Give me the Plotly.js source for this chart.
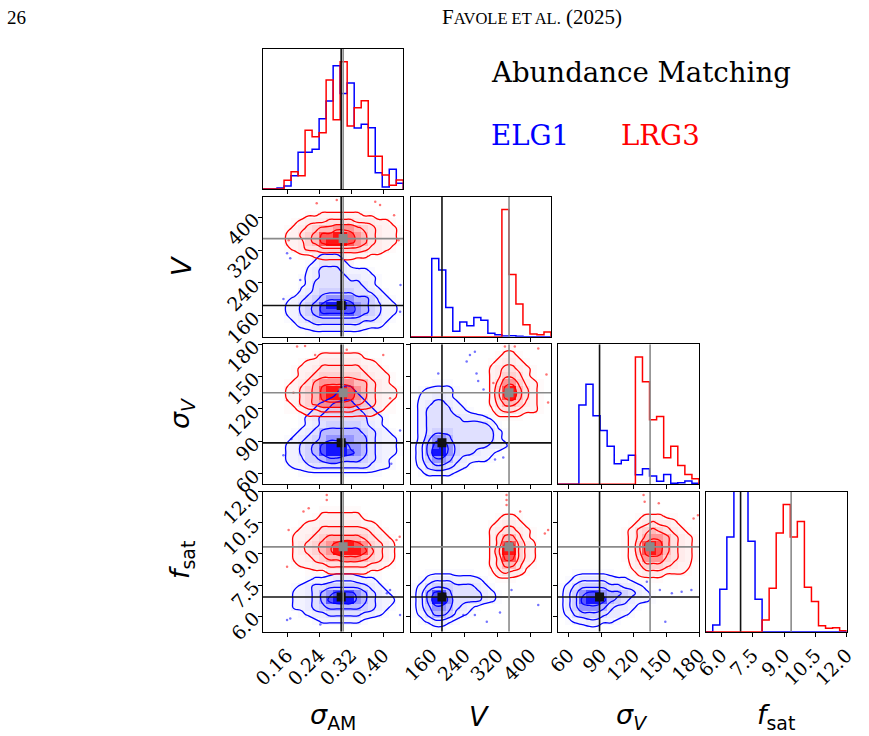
<!DOCTYPE html>
<html>
<head>
<meta charset="utf-8">
<script src="https://cdn.plot.ly/plotly-3.0.1.min.js"></script>
<style>
html, body { margin: 0; padding: 0; background: #fff; }
#chart { width: 869px; height: 736px; }
</style>
</head>
<body>
<div id="chart"></div>
<script>
// ---- parameters of the corner plot ----
const paramLabels = ['<i>σ</i><sub>AM</sub>', '<i>V</i>', '<i>σ</i><sub><i>V</i></sub>', '<i>f</i><sub>sat</sub>'];
const paramRanges = [[0.10, 0.45], [109, 450], [50, 180], [5.25, 12.0]];
const tickValues = [[0.16, 0.24, 0.32, 0.40], [160, 240, 320, 400], [60, 90, 120, 150, 180], [6.0, 7.5, 9.0, 10.5, 12.0]];
const tickFormats = ['.2f', 'd', 'd', '.1f'];
const truthELG1 = [0.295, 185, 88.5, 6.92];
const truthLRG3 = [0.300, 348, 135, 9.34];

// ---- 1D marginal histograms (20 bins over each range) ----
const histSigmaAM_ELG1 = [0, 0, 3, 9, 40, 110, 110, 119, 211, 264, 370, 287, 318, 183, 194, 184, 49, 6, 59, 17];
const histSigmaAM_LRG3 = [0, 0, 0, 26, 52, 40, 176, 157, 169, 327, 208, 382, 189, 244, 265, 98, 98, 42, 11, 27];
const histV_ELG1 = [0, 0, 0, 235, 200, 88, 16, 44, 33, 58, 49, 10, 6, 2, 3, 1, 0, 0, 0, 0];
const histV_LRG3 = [0, 0, 0, 0, 0, 0, 0, 0, 0, 0, 0, 0, 0, 382, 187, 98, 36, 8, 6, 14];
const histSigmaV_ELG1 = [0, 0, 0, 240, 303, 207, 163, 115, 62, 73, 88, 29, 47, 25, 9, 30, 3, 5, 10, 3];
const histSigmaV_LRG3 = [0, 0, 0, 0, 0, 0, 0, 0, 0, 0, 0, 385, 310, 195, 205, 80, 115, 57, 30, 17];
const histFsat_ELG1 = [0, 20, 127, 283, 470, 450, 270, 97, 0, 0, 0, 0, 0, 0, 0, 0, 0, 0, 0, 0];
const histFsat_LRG3 = [0, 0, 0, 0, 0, 0, 0, 0, 35, 130, 295, 380, 283, 329, 133, 90, 18, 10, 12, 3];

// ---- 2D densities, 20x20 bins, rows listed from the top (high y) down, levels 0-9 ----
const O = '00000000000000000000';
const dens_sAM_V_ELG1 = [O, O, O, O, O, O, O, O,
  '00000001222100000000', '00000012333210000000', '00000023444322210000', '00000123444433221000',
  '00000124444444321000', '00000234555554432100', '00012345677776653210', '00022456899987654221',
  '00022456888887654221', '00012345555555443210', '00001223333333222100', '00000011111111100000'];
const dens_sAM_V_LRG3 = [O, O,
  '00000011222222110000', '00001233344443332210', '00012345667776543221', '00022456889987643221',
  '00022356899987643221', '00012344555555433210', '00000112222222211000', '00000000111110000000',
  O, O, O, O, O, O, O, O, O, O];
const dens_sAM_sV_ELG1 = [O, O, O, O, O,
  '00000000000110000000', '00000000001221000000', '00000000012332100000', '00000001234443210000',
  '00000012344444321000', '00000123444444422100', '00000123455555432100', '00001234666666543210',
  '00012345677776643221', '00022456899977643221', '00022456899987643221', '00022355677666543210',
  '00012234444444432210', '00000111111111111000', O];
const dens_sAM_sV_LRG3 = [O,
  '00000001222222100000', '00000122333333221000', '00001223444444322100', '00001234555555432210',
  '00012346777776643210', '00022456899987643221', '00022456899987643221', '00012456777776543210',
  '00011233444443332110', '00000011111111110000', O, O, O, O, O, O, O, O, O];
const dens_sAM_fs_ELG1 = [O, O, O, O, O, O, O, O, O, O, O,
  '00000000011111000000', '00000012223332221000', '00001234455555432100', '00002234678887643210',
  '00002234689997643220', '00002234566666543210', '00000123344444332100', '00000001222222100000', O];
const dens_sAM_fs_LRG3 = [O, O,
  '00000000111111000000', '00000001222222100000', '00000122333333221000', '00001223444444432100',
  '00002234566666543210', '00002345678998754320', '00002345679999864320', '00002234566777654320',
  '00001223344444433210', '00000011122222211000', O, O, O, O, O, O, O, O];
const dens_V_sV_ELG1 = [O, O, O, O, O,
  '00011100000000000000', '01222210000000000000', '02233210000000000000', '12344321000000000000',
  '12444422100000000000', '12444443332100000000', '12444444444310000000', '12455544444421000000',
  '12577644444421000000', '13689754444332000000', '13699754432210000000', '13577643222100000000',
  '12455432100000000000', '01222210000000000000', O];
const dens_V_sV_LRG3 = [
  '00000000000001100000', '00000000000012210000', '00000000000123321000', '00000000000234432100',
  '00000000000235542100', '00000000000247753210', '00000000000258964210', '00000000000258964210',
  '00000000000246653210', '00000000000134432210', '00000000000011110000', O, O, O, O, O, O, O, O, O];
const dens_V_fs_ELG1 = [O, O, O, O, O, O, O, O, O, O, O,
  '00111111100000000000', '01233322221000000000', '12455544432100000000', '13688644443210000000',
  '13699744443210000000', '13577643210000000000', '12466532100000000000', '01233210000000000000',
  '00011000000000000000'];
const dens_V_fs_LRG3 = [O, O, O,
  '00000000000012210000', '00000000000123321000', '00000000000234432100', '00000000000246642100',
  '00000000000248853200', '00000000000259953200', '00000000000248853200', '00000000000246642100',
  '00000000000134331000', '00000000000011100000', O, O, O, O, O, O, O];
const dens_sV_fs_ELG1 = [O, O, O, O, O, O, O, O, O, O, O,
  '00111111000000000000', '01233332221000000000', '12455554433210000000', '13578876654321000000',
  '13589986543221000000', '13577764332100000000', '12455543321000000000', '01223322100000000000',
  '00011100000000000000'];
const dens_sV_fs_LRG3 = [O, O, O,
  '00000000000122211000', '00000000001234332100', '00000000012456543210', '00000000012467764321',
  '00000000012589864321', '00000000012589864321', '00000000012477754321', '00000000002355543220',
  '00000000001233322210', '00000000000111100000', O, O, O, O, O, O, O];

// ---- outlying samples drawn as dots ----
const dots_sAM_V_ELG1 = [[0.160, 312], [0.168, 300], [0.193, 247], [0.151, 201], [0.443, 235], [0.442, 170]];
const dots_sAM_V_LRG3 = [[0.234, 434], [0.284, 442], [0.380, 438], [0.392, 430], [0.427, 405], [0.438, 344], [0.164, 344]];
const dots_sAM_sV_ELG1 = [[0.442, 100], [0.151, 77], [0.171, 92], [0.420, 69]];
const dots_sAM_sV_LRG3 = [[0.205, 178.5], [0.185, 178], [0.230, 170], [0.400, 170], [0.309, 175], [0.160, 128], [0.417, 130], [0.176, 135]];
const dots_sAM_fs_ELG1 = [[0.160, 5.81], [0.168, 5.89], [0.243, 5.60], [0.417, 7.26], [0.442, 6.05], [0.409, 7.10]];
const dots_sAM_fs_LRG3 = [[0.259, 11.84], [0.259, 11.60], [0.214, 11.20], [0.201, 11.04], [0.441, 9.83], [0.433, 9.67], [0.160, 8.38], [0.164, 10.15]];
const dots_V_sV_ELG1 = [[265, 173], [253, 170], [245, 164], [269, 153], [286, 138], [273, 146], [176, 153], [314, 73], [334, 75]];
const dots_V_sV_LRG3 = [[338, 178], [362, 178], [419, 176], [439, 152], [443, 126], [310, 144]];
const dots_V_fs_ELG1 = [[354, 7.26], [326, 6.18], [294, 5.73], [265, 6.05], [237, 6.05], [419, 6.54]];
const dots_V_fs_LRG3 = [[342, 11.84], [342, 11.60], [342, 11.36], [375, 11.04], [443, 10.15], [435, 9.99]];
const dots_sV_fs_ELG1 = [[144, 7.26], [155, 7.10], [164, 7.18], [173, 7.26], [149, 5.73], [132, 7.66]];
const dots_sV_fs_LRG3 = [[129, 11.84], [130, 11.52], [175, 10.71], [179, 10.87], [143, 11.44]];

// ---- assembling ----
const hists = [
  [histSigmaAM_ELG1, histSigmaAM_LRG3], [histV_ELG1, histV_LRG3],
  [histSigmaV_ELG1, histSigmaV_LRG3], [histFsat_ELG1, histFsat_LRG3]];
const pairs = {
  '0,1': [dens_sAM_V_ELG1, dens_sAM_V_LRG3, dots_sAM_V_ELG1, dots_sAM_V_LRG3],
  '0,2': [dens_sAM_sV_ELG1, dens_sAM_sV_LRG3, dots_sAM_sV_ELG1, dots_sAM_sV_LRG3],
  '0,3': [dens_sAM_fs_ELG1, dens_sAM_fs_LRG3, dots_sAM_fs_ELG1, dots_sAM_fs_LRG3],
  '1,2': [dens_V_sV_ELG1, dens_V_sV_LRG3, dots_V_sV_ELG1, dots_V_sV_LRG3],
  '1,3': [dens_V_fs_ELG1, dens_V_fs_LRG3, dots_V_fs_ELG1, dots_V_fs_LRG3],
  '2,3': [dens_sV_fs_ELG1, dens_sV_fs_LRG3, dots_sV_fs_ELG1, dots_sV_fs_LRG3]
};

const W = 869, H = 736;
const colBox = [[263, 403.3], [410.7, 551], [557.7, 699], [705.7, 846.7]];
const rowBox = [[49, 189], [196.7, 336.7], [344.3, 484.3], [491.7, 631.7]];
const BLUE = 'rgb(0,0,255)', RED = 'rgb(255,0,0)';
const TRUTH_DARK = '#111111', TRUTH_GRAY = '#8a8a8a';

function binEdges(r) { const w = (r[1] - r[0]) / 20; return Array.from({length: 21}, (_, k) => r[0] + k * w); }
function binCenters(r) { const w = (r[1] - r[0]) / 20; return Array.from({length: 20}, (_, k) => r[0] + (k + 0.5) * w); }
function toGrid(rows) { return rows.slice().reverse().map(s => s.padEnd(20, '0').split('').map(Number)); }
function stepLine(r, h) {
  const e = binEdges(r); const x = [e[0]], y = [0];
  for (let k = 0; k < 20; k++) { x.push(e[k]); y.push(h[k]); }
  x.push(e[20]); y.push(h[19]); x.push(e[20]); y.push(0);
  return {x, y};
}
// tint of the density shading for each level 0..9 (mixed with white)
const shadeMix = [0, 0.02, 0.05, 0.08, 0.12, 0.18, 0.27, 0.42, 0.65, 0.92];
function shadeScale(c) {
  return shadeMix.map((a, k) => [k / 9, `rgba(${c},${a})`]);
}

const axisFont = {family: 'DejaVu Serif', size: 19, color: '#000'};
const baseAxis = {
  showline: true, mirror: true, linecolor: '#000', linewidth: 1,
  ticks: 'outside', ticklen: 4, tickwidth: 1, tickcolor: '#000',
  showgrid: false, zeroline: false, tickangle: -45, tickfont: axisFont, fixedrange: true
};

const layout = {
  width: W, height: H, margin: {l: 0, r: 0, t: 0, b: 0},
  paper_bgcolor: '#fff', plot_bgcolor: '#fff', showlegend: false,
  annotations: [], shapes: []
};
const traces = [];
let n = 0;

for (let i = 0; i < 4; i++) {
  for (let j = 0; j <= i; j++) {
    n++;
    const s = n === 1 ? '' : String(n);
    const xr = 'x' + s, yr = 'y' + s;
    layout['xaxis' + s] = Object.assign({}, baseAxis, {
      domain: [colBox[j][0] / W, colBox[j][1] / W], anchor: yr,
      range: paramRanges[j], tickvals: tickValues[j], tickformat: tickFormats[j],
      showticklabels: i === 3
    });
    if (i === j) {
      const [hb, hr] = hists[i];
      const top = 1.1 * Math.max(...hr);
      layout['yaxis' + s] = Object.assign({}, baseAxis, {
        domain: [1 - rowBox[i][1] / H, 1 - rowBox[i][0] / H], anchor: xr,
        range: [0, top], showticklabels: false, ticks: ''
      });
      [[hb, BLUE], [hr, RED]].forEach(([h, c]) => {
        const st = stepLine(paramRanges[i], h);
        traces.push({type: 'scatter', mode: 'lines', x: st.x, y: st.y, xaxis: xr, yaxis: yr,
          line: {color: c, width: 1.5, shape: 'hv'}, hoverinfo: 'skip'});
      });
      traces.push({type: 'scatter', mode: 'lines', x: [truthELG1[i], truthELG1[i]], y: [0, top],
        xaxis: xr, yaxis: yr, line: {color: TRUTH_DARK, width: 1.6}, hoverinfo: 'skip'});
      traces.push({type: 'scatter', mode: 'lines', x: [truthLRG3[i], truthLRG3[i]], y: [0, top],
        xaxis: xr, yaxis: yr, line: {color: TRUTH_GRAY, width: 1.6}, hoverinfo: 'skip'});
    } else {
      layout['yaxis' + s] = Object.assign({}, baseAxis, {
        domain: [1 - rowBox[i][1] / H, 1 - rowBox[i][0] / H], anchor: xr,
        range: paramRanges[i], tickvals: tickValues[i], tickformat: tickFormats[i],
        showticklabels: j === 0
      });
      const [db, dr, pb, pr] = pairs[j + ',' + i];
      const xc = binCenters(paramRanges[j]), yc = binCenters(paramRanges[i]);
      [[db, '0,0,255'], [dr, '255,0,0']].forEach(([d, c]) => {
        traces.push({type: 'heatmap', x: xc, y: yc, z: toGrid(d), xaxis: xr, yaxis: yr,
          zmin: 0, zmax: 9, colorscale: shadeScale(c), showscale: false, hoverinfo: 'skip'});
      });
      [[pb, 'rgba(0,0,255,0.55)'], [pr, 'rgba(255,0,0,0.55)']].forEach(([p, c]) => {
        traces.push({type: 'scatter', mode: 'markers', x: p.map(q => q[0]), y: p.map(q => q[1]),
          xaxis: xr, yaxis: yr, marker: {color: c, size: 2.5}, hoverinfo: 'skip'});
      });
      [[db, BLUE], [dr, RED]].forEach(([d, c]) => {
        traces.push({type: 'contour', x: xc, y: yc, z: toGrid(d), xaxis: xr, yaxis: yr,
          autocontour: false, contours: {start: 1.5, end: 7.5, size: 2, coloring: 'lines'},
          colorscale: [[0, c], [1, c]], line: {width: 1.3, smoothing: 1.3},
          showscale: false, hoverinfo: 'skip'});
      });
      // truth cross-hairs and markers
      [[truthELG1, TRUTH_DARK], [truthLRG3, TRUTH_GRAY]].forEach(([t, c]) => {
        traces.push({type: 'scatter', mode: 'lines', x: [t[j], t[j]], y: paramRanges[i],
          xaxis: xr, yaxis: yr, line: {color: c, width: 1.6}, hoverinfo: 'skip'});
        traces.push({type: 'scatter', mode: 'lines', x: paramRanges[j], y: [t[i], t[i]],
          xaxis: xr, yaxis: yr, line: {color: c, width: 1.6}, hoverinfo: 'skip'});
        traces.push({type: 'scatter', mode: 'markers', x: [t[j]], y: [t[i]], xaxis: xr, yaxis: yr,
          marker: {symbol: 'square', size: 9, color: c, line: {width: 0}}, hoverinfo: 'skip'});
      });
    }
  }
}

// axis labels
const xLabelPos = [333, 480, 632, 776];
const yLabelPos = [null, 266, 413, 560];
const labelFont = {family: 'DejaVu Sans', size: 27, color: '#000'};
for (let k = 0; k < 4; k++) {
  layout.annotations.push({text: paramLabels[k], xref: 'paper', yref: 'paper',
    x: xLabelPos[k] / W, y: 1 - 716 / H, xanchor: 'center', yanchor: 'middle',
    showarrow: false, font: labelFont});
  if (k > 0) {
    layout.annotations.push({text: paramLabels[k], xref: 'paper', yref: 'paper',
      x: 181 / W, y: 1 - yLabelPos[k] / H, xanchor: 'center', yanchor: 'middle',
      textangle: -90, showarrow: false, font: labelFont});
  }
}

// title block and legend
const serifBig = {family: 'DejaVu Serif', size: 27.6, color: '#000'};
layout.annotations.push(
  {text: 'Abundance Matching', xref: 'paper', yref: 'paper', x: 489 / W, y: 1 - 72 / H,
   xanchor: 'left', yanchor: 'middle', showarrow: false, font: serifBig},
  {text: 'ELG1', xref: 'paper', yref: 'paper', x: 489 / W, y: 1 - 136 / H,
   xanchor: 'left', yanchor: 'middle', showarrow: false, font: Object.assign({}, serifBig, {color: BLUE})},
  {text: 'LRG3', xref: 'paper', yref: 'paper', x: 619 / W, y: 1 - 136 / H,
   xanchor: 'left', yanchor: 'middle', showarrow: false, font: Object.assign({}, serifBig, {color: RED})},
  {text: '26', xref: 'paper', yref: 'paper', x: 5 / W, y: 1 - 17 / H,
   xanchor: 'left', yanchor: 'middle', showarrow: false,
   font: {family: 'Liberation Serif', size: 19, color: '#000'}},
  {text: 'F<span style="font-size:16.5px">AVOLE ET AL.</span> (2025)', xref: 'paper', yref: 'paper',
   x: 532 / W, y: 1 - 17 / H, xanchor: 'center', yanchor: 'middle', showarrow: false,
   font: {family: 'Liberation Serif', size: 21, color: '#000'}}
);

Plotly.newPlot('chart', traces, layout, {staticPlot: true, displayModeBar: false});
</script>
</body>
</html>
